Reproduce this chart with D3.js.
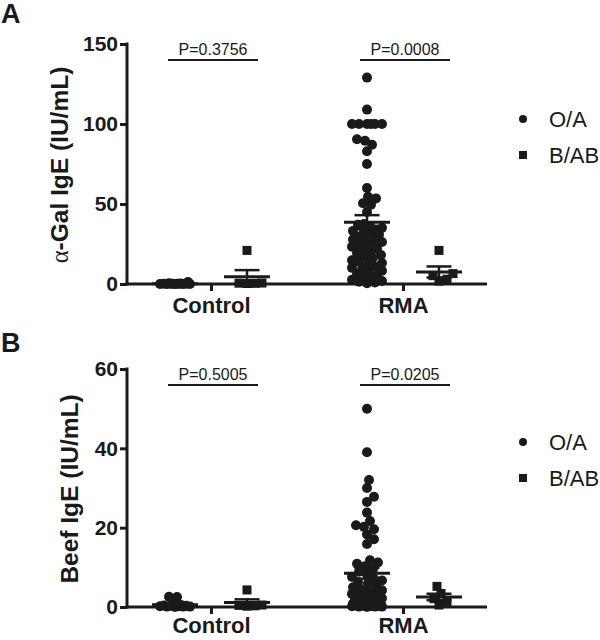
<!DOCTYPE html>
<html>
<head>
<meta charset="utf-8">
<script src="https://cdn.jsdelivr.net/npm/d3@7"></script>
<style>
  html, body { margin: 0; padding: 0; background: #fff; }
  svg { display: block; font-family: "Liberation Sans", Arial, sans-serif; }
</style>
</head>
<body>
<svg id="chart" width="600" height="640"></svg>
<script>
// ---------------- data ----------------
const categories = ["Control", "RMA"];
const groups = ["O/A", "B/AB"];

const galTicks = [0, 50, 100, 150];
const beefTicks = [0, 20, 40, 60];

const galPValues = ["P=0.3756", "P=0.0008"];
const beefPValues = ["P=0.5005", "P=0.0205"];

const galControlOA = [1.2, 0.4, 0.3, 0.2, 0.2, 0.1, 0.1, 0.1, 0.1, 0.05, 0.05, 0.0, 0.0, 0.0];
const galControlBAB = [21, 0.6, 0.4, 0.5, 0.3];
const galRmaOA = [129, 109, 100, 100, 100, 100, 100, 100, 90.5, 89.5, 87, 83, 75, 60,
  54.5, 53.5, 50.5, 49.5, 45, 37.5, 37,
  36.2, 35.1, 34, 33.6, 33.2, 31.8, 30.9, 29.7, 28.4, 27.8, 26.8, 26.3, 25.1, 24.2, 23.3,
  22.1, 21.4, 20.2, 19.3, 18.1, 17.2, 16.4, 14.8, 13.9, 13.1, 12.2, 10.8, 10.1, 9.2,
  8.3, 7.1, 6.2, 5.1, 4.3, 3.2, 2.6, 1.9, 1.4, 0.9, 0.5];
const galRmaBAB = [21, 6.5, 5.2, 3.0, 1.8];

const beefControlOA = [2.6, 2.5, 0.6, 0.5, 0.4, 0.4, 0.3, 0.3, 0.2, 0.2, 0.1, 0.1, 0.1, 0.0];
const beefControlBAB = [4.3, 0.4, 0.3, 0.5, 0.2];
const beefRmaOA = [50, 39, 32, 30, 27.8, 26.5, 23.8, 21.7, 20.6, 20.2, 19.6, 18.3, 17.1, 15.9,
  11.8, 11.2, 10.9, 10.3, 9.6, 8.9, 8.2, 7.6, 7.1, 6.7, 6.3, 5.9,
  5.4, 5.0, 4.6, 4.2, 3.9, 3.6, 3.3, 3.0, 2.8, 2.6, 2.4, 2.2, 2.0, 1.9, 1.7, 1.5,
  1.4, 1.3, 1.1, 1.0, 0.9, 0.8, 0.7, 0.6, 0.5, 0.5, 0.4, 0.4, 0.3, 0.3, 0.2, 0.2,
  0.1, 0.1, 0.1, 0.0];
const beefRmaBAB = [5.2, 3.4, 2.1, 1.4, 0.5];

// ---------------- drawing ----------------
const svg = d3.select("#chart");
const INK = "#1a1a1a";

function swarm(values, cx, y, minDist, maxHalf) {
  const pts = values.map(v => ({ v, py: y(v) })).sort((a, b) => b.py - a.py);
  const placed = [];
  const cands = [0];
  for (let k = 1; k <= maxHalf; k++) { cands.push(k, -k); }
  pts.forEach(p => {
    let best = null, bestScore = -1;
    for (const c of cands) {
      let md = Infinity;
      for (const q of placed) {
        const d = Math.hypot(q.dx - c, q.py - p.py);
        if (d < md) md = d;
      }
      if (md >= minDist) { best = c; bestScore = Infinity; break; }
      if (md > bestScore) { bestScore = md; best = c; }
    }
    p.dx = best;
    placed.push(p);
  });
  return pts.map(p => ({ v: p.v, x: cx + p.dx, y: p.py }));
}

function panel(opts) {
  const { top, bottom, max, ticks, data, pvals, title, letter, letterY, titleX, legendY, labelPad } = opts;
  const y = d3.scaleLinear().domain([0, max]).range([bottom, top]);
  const x = d3.scalePoint().domain(categories).range([127, 487]).padding(0.4375);
  const gx = d3.scalePoint().domain(groups).range([-36, 36]);

  const g = svg.append("g");

  // y axis
  const ya = g.append("g").attr("transform", "translate(127,0)")
    .call(d3.axisLeft(y).tickValues(ticks).tickSize(7).tickSizeOuter(0).tickPadding(2));
  ya.select(".domain").attr("stroke", INK).attr("stroke-width", 3)
    .attr("d", `M0,${y(max) - 1.5}V${y(0) + 1.5}`);
  ya.selectAll(".tick line").attr("stroke", INK).attr("stroke-width", 3);
  ya.selectAll(".tick text").attr("fill", INK).attr("font-size", 21).attr("font-weight", "bold")
    .attr("font-family", "Liberation Sans, Arial, sans-serif");

  // x axis
  const xa = g.append("g").attr("transform", `translate(0,${y(0)})`)
    .call(d3.axisBottom(x).tickSize(7).tickSizeOuter(0).tickPadding(labelPad));
  xa.select(".domain").attr("stroke", INK).attr("stroke-width", 3).attr("d", "M125.5,0H487");
  xa.selectAll(".tick line").attr("stroke", INK).attr("stroke-width", 3);
  xa.selectAll(".tick text").attr("fill", INK).attr("font-size", 22).attr("font-weight", "bold")
    .attr("font-family", "Liberation Sans, Arial, sans-serif");

  // points
  data.forEach(d => {
    const cx = x(d.cat) + gx(d.grp);
    const pts = swarm(d.values, cx, y, 8, 15);
    if (d.grp === "O/A") {
      g.append("g").selectAll("circle").data(pts).join("circle")
        .attr("cx", p => p.x).attr("cy", p => p.y).attr("r", 5).attr("fill", INK);
    } else {
      g.append("g").selectAll("rect").data(pts).join("rect")
        .attr("x", p => p.x - 4.5).attr("y", p => p.y - 4.5)
        .attr("width", 9).attr("height", 9).attr("fill", INK);
    }
    const m = d3.mean(d.values);
    const sem = d3.deviation(d.values) / Math.sqrt(d.values.length);
    const eg = g.append("g").attr("stroke", INK).attr("fill", "none");
    eg.append("line").attr("x1", cx - 23).attr("x2", cx + 23).attr("y1", y(m)).attr("y2", y(m)).attr("stroke-width", 3);
    eg.append("line").attr("x1", cx).attr("x2", cx).attr("y1", y(m + sem)).attr("y2", y(Math.max(0, m - sem))).attr("stroke-width", 2.5);
    eg.append("line").attr("x1", cx - 12.5).attr("x2", cx + 12.5).attr("y1", y(m + sem)).attr("y2", y(m + sem)).attr("stroke-width", 2.5);
    if (m - sem > 0) {
      eg.append("line").attr("x1", cx - 12.5).attr("x2", cx + 12.5).attr("y1", y(m - sem)).attr("y2", y(m - sem)).attr("stroke-width", 2.5);
    }
  });

  // p-value brackets
  categories.forEach((c, i) => {
    const x1 = x(c) + gx("O/A") - 7, x2 = x(c) + gx("B/AB") + 11;
    g.append("line").attr("x1", x1).attr("x2", x2).attr("y1", top + 16).attr("y2", top + 16)
      .attr("stroke", INK).attr("stroke-width", 2);
    g.append("text").attr("x", (x1 + x2) / 2).attr("y", top + 11).attr("text-anchor", "middle")
      .attr("font-size", 16).attr("fill", INK).text(pvals[i]);
  });

  // y title
  const t = g.append("text")
    .attr("transform", `translate(${titleX},${(top + bottom) / 2 + 1}) rotate(-90)`)
    .attr("text-anchor", "middle").attr("font-size", 24.5).attr("font-weight", "bold").attr("fill", INK);
  title.forEach(part => {
    const ts = t.append("tspan").text(part.text);
    if (part.serif) ts.attr("font-family", "Liberation Serif, serif").attr("font-weight", "normal");
  });

  // panel letter
  svg.append("text").attr("x", 1).attr("y", letterY).attr("font-size", 27).attr("font-weight", "bold")
    .attr("fill", INK).text(letter);

  // legend
  const lg = g.append("g").attr("transform", `translate(523,${legendY})`);
  groups.forEach((grp, i) => {
    const yy = i * 36;
    if (grp === "O/A") lg.append("circle").attr("cx", 0).attr("cy", yy).attr("r", 4).attr("fill", INK);
    else lg.append("rect").attr("x", -4).attr("y", yy - 4).attr("width", 8).attr("height", 8).attr("fill", INK);
    lg.append("text").attr("x", 26).attr("y", yy + 8).attr("font-size", 22).attr("fill", INK).text(grp);
  });
}

panel({
  top: 44, bottom: 284, max: 150, ticks: galTicks, pvals: galPValues,
  title: [{ text: "α", serif: true }, { text: "-Gal IgE (IU/mL)" }],
  letter: "A", letterY: 23, titleX: 68, legendY: 119, labelPad: 6,
  data: [
    { cat: "Control", grp: "O/A", values: galControlOA },
    { cat: "Control", grp: "B/AB", values: galControlBAB },
    { cat: "RMA", grp: "O/A", values: galRmaOA },
    { cat: "RMA", grp: "B/AB", values: galRmaBAB }
  ]
});

panel({
  top: 369, bottom: 607, max: 60, ticks: beefTicks, pvals: beefPValues,
  title: [{ text: "Beef IgE (IU/mL)" }],
  letter: "B", letterY: 352, titleX: 78, legendY: 442, labelPad: 3,
  data: [
    { cat: "Control", grp: "O/A", values: beefControlOA },
    { cat: "Control", grp: "B/AB", values: beefControlBAB },
    { cat: "RMA", grp: "O/A", values: beefRmaOA },
    { cat: "RMA", grp: "B/AB", values: beefRmaBAB }
  ]
});
</script>
</body>
</html>
